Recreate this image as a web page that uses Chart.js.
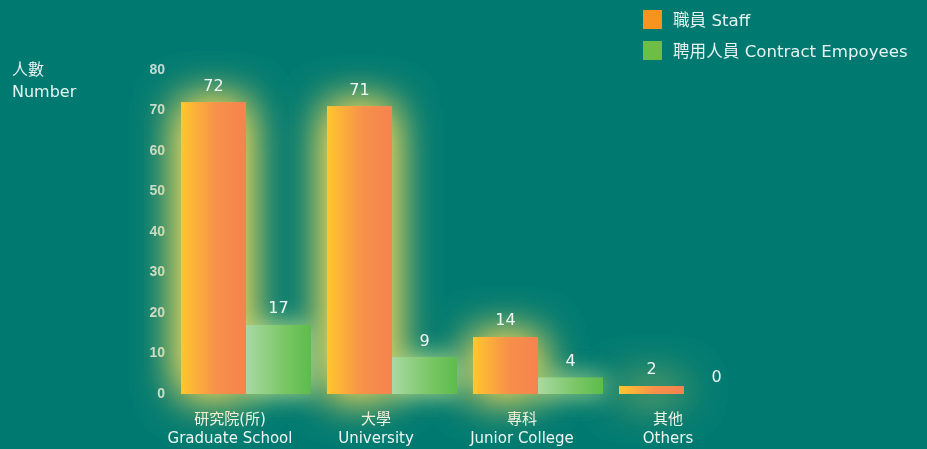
<!DOCTYPE html>
<html>
<head>
<meta charset="utf-8">
<script src="https://cdn.jsdelivr.net/npm/chart.js@4"></script>
<style>
  html, body { margin: 0; padding: 0; background: #007a71; }
  #wrap { position: relative; width: 927px; height: 449px; font-family: 'DejaVu Sans', 'Noto Sans CJK TC', sans-serif; color: #e8f2f0; }
  #chart { position: absolute; left: 0; top: 0; }
  .ytitle { position: absolute; left: 12px; top: 59px; font-size: 16px; line-height: 22px; }
  .legend { position: absolute; left: 643px; top: 10px; font-size: 16.6px; }
  .legend div { height: 31px; display: flex; align-items: flex-start; }
  .legend span.box { display: inline-block; width: 19px; height: 19px; margin-right: 11px; }
  .legend span.txt { line-height: 20px; position: relative; top: 1px; }
</style>
</head>
<body>
<div id="wrap">
  <canvas id="chart" width="927" height="449"></canvas>
  <div class="ytitle">人數<br>Number</div>
  <div class="legend">
    <div><span class="box" style="background:#f7941d"></span><span class="txt">職員 Staff</span></div>
    <div><span class="box" style="background:#6cbe45"></span><span class="txt">聘用人員 Contract Empoyees</span></div>
  </div>
</div>
<script>
// 資料
var categories = [['研究院(所)', 'Graduate School'], ['大學', 'University'], ['專科', 'Junior College'], ['其他', 'Others']];
var staffValues = [72, 71, 14, 2];
var contractValues = [17, 9, 4, 0];
var yTicks = { min: 0, max: 80, step: 10 };

var CAT_PCT = 0.89;

// 每根柱子的水平漸層
function barGradient(ctx, left, right, stops) {
  var g = ctx.chart.ctx.createLinearGradient(left, 0, right, 0);
  stops.forEach(s => g.addColorStop(s[0], s[1]));
  return g;
}
function makeFill(stops, fallback) {
  return function(c) {
    var xs = c.chart.scales.x;
    if (!xs || !c.chart.chartArea) return fallback;
    var center = xs.getPixelForValue(c.dataIndex);
    var w = xs.width / categories.length * CAT_PCT / 2;
    var left = c.datasetIndex === 0 ? center - w : center;
    return barGradient(c, left, left + w, stops);
  };
}

// 光暈：先把所有柱子帶陰影畫一次，之後正常繪製蓋在上面
var glowPlugin = {
  id: 'glow',
  beforeDatasetsDraw(chart) {
    var ctx = chart.ctx;
    var glow = [
      { color: 'rgba(250,220,90,0.9)', blur: 44 },
      { color: 'rgba(200,230,140,0.55)', blur: 24 }
    ];
    glow.forEach((g, i) => {
      var meta = chart.getDatasetMeta(i);
      ctx.save();
      ctx.shadowColor = g.color;
      ctx.shadowBlur = g.blur;
      meta.controller.draw();
      meta.controller.draw();
      ctx.restore();
    });
  }
};

// 數值標籤
var valueLabels = {
  id: 'valueLabels',
  afterDatasetsDraw(chart) {
    var ctx = chart.ctx;
    ctx.save();
    ctx.fillStyle = '#eef6f4';
    ctx.font = '16px "DejaVu Sans", sans-serif';
    ctx.textAlign = 'center';
    ctx.textBaseline = 'bottom';
    chart.data.datasets.forEach((ds, i) => {
      chart.getDatasetMeta(i).data.forEach((bar, j) => {
        ctx.fillText(ds.data[j], bar.x, bar.y - 8);
      });
    });
    ctx.restore();
  }
};

new Chart(document.getElementById('chart'), {
  type: 'bar',
  data: {
    labels: categories,
    datasets: [
      { label: '職員 Staff', data: staffValues,
        backgroundColor: makeFill([[0, '#ffc72e'], [0.55, '#f7904a'], [1, '#f5834f']], '#f7941d') },
      { label: '聘用人員 Contract Empoyees', data: contractValues,
        backgroundColor: makeFill([[0, '#a9d9a4'], [0.6, '#79c664'], [1, '#5cbc4c']], '#6cbe45') }
    ]
  },
  options: {
    responsive: false,
    animation: false,
    layout: { padding: { left: 112, right: 170, top: 70, bottom: 0 } },
    datasets: { bar: { barPercentage: 1, categoryPercentage: CAT_PCT, borderWidth: 0 } },
    plugins: { legend: { display: false }, tooltip: { enabled: false } },
    scales: {
      x: {
        grid: { display: false, drawTicks: false },
        border: { display: false },
        afterFit: s => { s.height = 55; },
        ticks: { color: '#eef6f4', padding: 17, labelOffset: -16,
          font: { family: "'DejaVu Sans', 'Noto Sans CJK TC', sans-serif", size: 15, lineHeight: 1.25 } }
      },
      y: {
        min: yTicks.min, max: yTicks.max,
        grid: { display: false, drawTicks: false },
        border: { display: false },
        afterFit: s => { s.width = 61; },
        ticks: { stepSize: yTicks.step, color: '#c3dbd6', padding: 8,
          font: { family: "'Liberation Sans', sans-serif", size: 14, weight: 'bold' } }
      }
    }
  },
  plugins: [glowPlugin, valueLabels]
});
</script>
</body>
</html>
